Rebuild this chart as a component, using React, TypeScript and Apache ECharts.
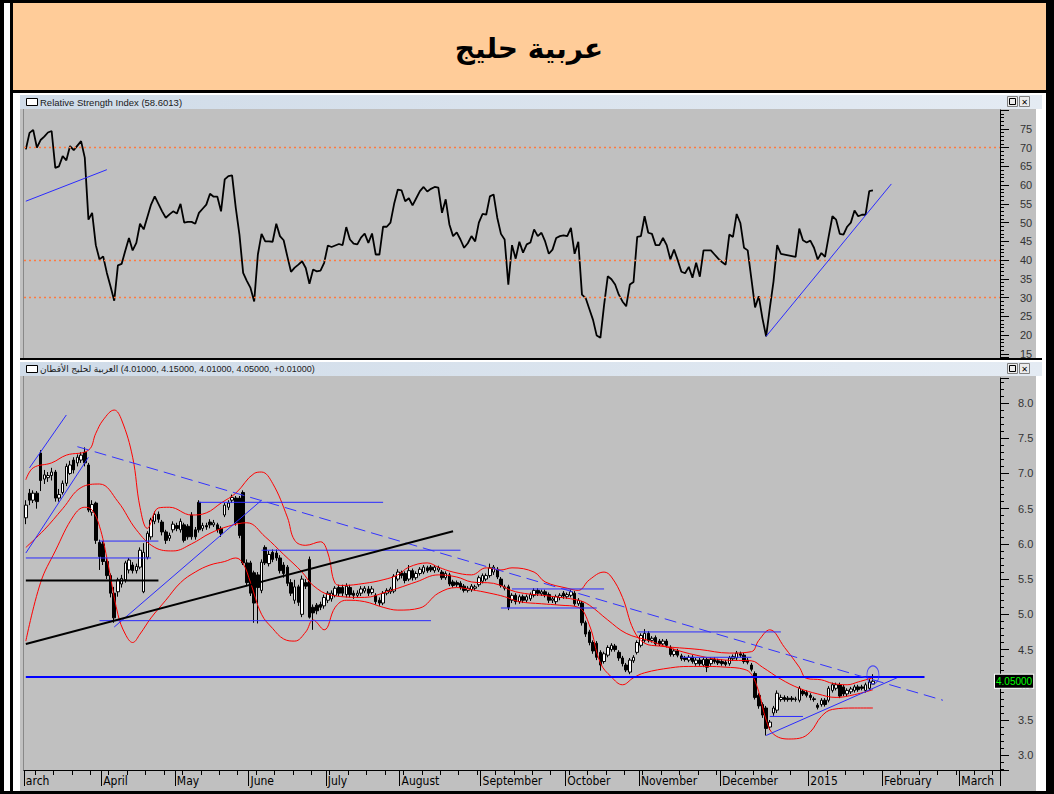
import React, { useEffect, useRef } from 'react';
import * as echarts from 'echarts';

const monthLabels = ['arch', 'April', 'May', 'June', 'July', 'August', 'September', 'October', 'November', 'December', '2015', 'February', 'March'];
const monthStarts = [0, 21, 41, 61, 82, 102, 124, 147, 167, 189, 213, 233, 254];
const totalSlots = 265;

const rsiValues = [
  69.5, 73.9, 74.7, 70, 72, 72.9, 74, 74.4, 64.6, 65, 67.7, 66.6, 70.4, 69.3, 70.5, 71.7, 67.3, 50.8, 52.6, 44,
  40.2, 41, 36.6, 33, 29.2, 38.6, 39, 42.5, 45.9, 42.6, 44.6, 49.7, 48.2, 51.5, 54.8, 57, 55, 53, 51.3, 52.2,
  53, 52.4, 55, 50, 50.2, 50.2, 49.7, 52.6, 53.7, 54.8, 57.7, 56.9, 56.9, 53, 61.5, 62.4, 62.6, 53.9, 46.8, 36.6,
  34.5, 32.6, 29, 41.5, 47, 45, 45, 44.9, 49.7, 46.4, 45.3, 41, 36.9, 38, 38.8, 39.7, 37.9, 33.7, 37.5, 37,
  37.2, 39.3, 43.9, 43.5, 43.9, 44.3, 44, 48.8, 45.5, 44.4, 44.2, 46, 47.1, 44.6, 47.1, 41.5, 41.5, 48.9, 48.9, 50,
  55, 58.8, 58.6, 55.7, 56.5, 54.6, 56.5, 58.4, 59.5, 58.3, 59, 59.5, 59.3, 52.6, 56.2, 49.5, 46.4, 47.4, 45.5, 43.3,
  44.5, 46.4, 45, 50, 52.3, 52.1, 57, 57.5, 51.3, 47, 45.5, 33.5, 44, 40.4, 44.9, 42, 44.2, 44.7, 48.2, 46.4,
  47.3, 45, 41.7, 42.8, 45.9, 46.4, 46.6, 46.4, 48.6, 41.7, 44.9, 30.8, 29.9, 27, 24.1, 19.9, 19.3, 28, 35.7, 34.9,
  33.5, 30.8, 29, 27.7, 33.5, 34.2, 46.2, 46.4, 51.7, 47.3, 47, 44, 44, 45.9, 44, 40.2, 42.8, 40, 36.9, 36.5,
  38.2, 35.3, 39.3, 35.6, 42.6, 42.6, 42.6, 41.5, 40.4, 39.5, 38.8, 46.8, 46.2, 52.3, 49.9, 43.3, 42.6, 35, 27.4, 30.4,
  24.5, 19.7, 27.2, 34.3, 44, 41.7, 41.5, 41.3, 41.1, 40.9, 48.4, 45.3, 44.7, 45.2, 43.3, 40.2, 41.9, 40.9, 46.4, 51.7,
  50.8, 47, 46.8, 48.9, 50, 53.2, 51.7, 52.1, 52.1, 58.4, 58.6,
];

// [open, close, low, high]
const candles = [
  [6.37, 6.55, 6.28, 6.62], [6.72, 6.62, 6.55, 6.78], [6.62, 6.72, 6.58, 6.76], [6.72, 6.6, 6.5, 6.75], [7.29, 6.9, 6.75, 7.33],
  [6.92, 6.98, 6.85, 7.05], [6.94, 6.97, 6.88, 7.02], [6.97, 7.02, 6.9, 7.08], [7.02, 6.65, 6.6, 7.05], [6.65, 6.7, 6.6, 6.78],
  [6.73, 6.86, 6.7, 6.9], [6.86, 7.1, 6.82, 7.14], [7.0, 7.12, 6.98, 7.18], [7.19, 7.05, 7.0, 7.23], [7.15, 7.23, 7.1, 7.27],
  [7.19, 7.26, 7.15, 7.3], [7.3, 7.15, 7.1, 7.37], [7.12, 6.48, 6.45, 7.15], [6.45, 6.56, 6.4, 6.62], [6.58, 6.05, 6.0, 6.6],
  [6.02, 5.82, 5.63, 6.06], [6.0, 5.75, 5.7, 6.04], [5.75, 5.55, 5.5, 5.8], [5.55, 5.3, 5.24, 5.58], [5.3, 4.95, 4.88, 5.39],
  [5.32, 5.49, 5.25, 5.52], [5.43, 5.51, 5.38, 5.56], [5.49, 5.73, 5.45, 5.76], [5.63, 5.77, 5.58, 5.8], [5.7, 5.62, 5.58, 5.74],
  [5.62, 5.68, 5.58, 5.72], [5.67, 5.91, 5.64, 5.95], [5.32, 5.88, 5.3, 6.01], [5.81, 6.15, 5.78, 6.18], [6.1, 6.34, 6.06, 6.37],
  [6.32, 6.42, 6.28, 6.46], [6.42, 6.35, 6.3, 6.46], [6.31, 6.17, 6.12, 6.34], [6.17, 6.05, 6.0, 6.2], [6.08, 6.12, 6.04, 6.16],
  [6.2, 6.28, 6.16, 6.32], [6.26, 6.22, 6.18, 6.3], [6.2, 6.32, 6.16, 6.36], [6.27, 6.05, 6.02, 6.3], [6.25, 6.1, 6.06, 6.28],
  [6.41, 6.1, 6.06, 6.45], [6.2, 6.1, 6.06, 6.24], [6.59, 6.2, 6.16, 6.62], [6.22, 6.26, 6.18, 6.3], [6.26, 6.24, 6.2, 6.3],
  [6.31, 6.27, 6.22, 6.35], [6.27, 6.3, 6.24, 6.34], [6.27, 6.2, 6.16, 6.3], [6.22, 6.15, 6.1, 6.25], [6.41, 6.55, 6.38, 6.58],
  [6.52, 6.58, 6.48, 6.62], [6.62, 6.66, 6.58, 6.7], [6.65, 6.3, 6.26, 6.68], [6.65, 6.12, 6.08, 6.68], [6.73, 5.73, 5.7, 6.76],
  [5.73, 5.45, 5.4, 5.78], [5.73, 5.3, 5.26, 5.76], [5.59, 5.16, 4.88, 5.62], [5.56, 5.38, 4.87, 5.6], [5.34, 5.74, 5.3, 5.78],
  [5.95, 5.73, 5.7, 5.98], [5.72, 5.85, 5.68, 5.9], [5.88, 5.78, 5.74, 5.92], [5.87, 5.8, 5.76, 5.92], [5.8, 5.62, 5.58, 5.84],
  [5.7, 5.58, 5.52, 5.74], [5.67, 5.44, 5.4, 5.7], [5.45, 5.3, 5.26, 5.5], [5.2, 5.39, 5.15, 5.49], [5.39, 5.17, 5.12, 5.42],
  [5.0, 5.5, 4.96, 5.55], [5.45, 5.4, 5.36, 5.5], [5.78, 4.96, 4.94, 5.82], [5.1, 5.02, 4.78, 5.14], [5.13, 5.05, 5.0, 5.16],
  [5.14, 5.1, 5.06, 5.18], [5.12, 5.24, 5.08, 5.28], [5.2, 5.3, 5.16, 5.33], [5.22, 5.3, 5.18, 5.34], [5.27, 5.37, 5.24, 5.4],
  [5.38, 5.3, 5.26, 5.42], [5.38, 5.3, 5.26, 5.42], [5.28, 5.4, 5.24, 5.44], [5.38, 5.28, 5.24, 5.42], [5.3, 5.27, 5.22, 5.34],
  [5.27, 5.3, 5.24, 5.34], [5.3, 5.36, 5.26, 5.4], [5.33, 5.37, 5.3, 5.4], [5.36, 5.3, 5.26, 5.4], [5.31, 5.36, 5.28, 5.4],
  [5.27, 5.18, 5.14, 5.3], [5.2, 5.16, 5.12, 5.24], [5.16, 5.3, 5.13, 5.33], [5.3, 5.34, 5.27, 5.37], [5.32, 5.36, 5.29, 5.39],
  [5.33, 5.54, 5.3, 5.57], [5.5, 5.6, 5.47, 5.64], [5.59, 5.55, 5.51, 5.62], [5.58, 5.48, 5.44, 5.61], [5.5, 5.62, 5.47, 5.7],
  [5.62, 5.52, 5.48, 5.65], [5.52, 5.58, 5.49, 5.61], [5.58, 5.64, 5.55, 5.67], [5.6, 5.67, 5.57, 5.7], [5.66, 5.62, 5.59, 5.69],
  [5.67, 5.63, 5.6, 5.7], [5.62, 5.67, 5.59, 5.7], [5.63, 5.66, 5.6, 5.69], [5.6, 5.52, 5.49, 5.63], [5.52, 5.58, 5.49, 5.61],
  [5.56, 5.43, 5.4, 5.59], [5.46, 5.41, 5.38, 5.49], [5.45, 5.42, 5.39, 5.48], [5.44, 5.38, 5.35, 5.47], [5.4, 5.34, 5.31, 5.43],
  [5.34, 5.37, 5.31, 5.4], [5.35, 5.4, 5.32, 5.43], [5.37, 5.39, 5.34, 5.42], [5.42, 5.52, 5.39, 5.55], [5.47, 5.55, 5.44, 5.58],
  [5.5, 5.55, 5.47, 5.58], [5.55, 5.66, 5.52, 5.72], [5.6, 5.67, 5.56, 5.7], [5.64, 5.53, 5.5, 5.67], [5.5, 5.41, 5.38, 5.53],
  [5.37, 5.39, 5.34, 5.42], [5.39, 5.1, 5.06, 5.42], [5.2, 5.27, 5.16, 5.3], [5.27, 5.18, 5.14, 5.3], [5.18, 5.25, 5.15, 5.28],
  [5.25, 5.2, 5.16, 5.28], [5.2, 5.25, 5.17, 5.28], [5.22, 5.28, 5.19, 5.31], [5.27, 5.34, 5.24, 5.37], [5.34, 5.3, 5.26, 5.37],
  [5.29, 5.32, 5.26, 5.35], [5.32, 5.28, 5.24, 5.35], [5.28, 5.2, 5.16, 5.31], [5.2, 5.22, 5.16, 5.25], [5.18, 5.25, 5.14, 5.28],
  [5.24, 5.27, 5.2, 5.3], [5.3, 5.26, 5.22, 5.33], [5.25, 5.28, 5.22, 5.31], [5.27, 5.32, 5.24, 5.35], [5.3, 5.15, 5.12, 5.33],
  [5.15, 5.2, 5.12, 5.23], [5.16, 4.88, 4.84, 5.19], [4.88, 4.72, 4.68, 4.91], [4.75, 4.6, 4.56, 4.78], [4.6, 4.48, 4.44, 4.63],
  [4.59, 4.39, 4.35, 4.62], [4.46, 4.28, 4.2, 4.49], [4.33, 4.44, 4.3, 4.47], [4.42, 4.53, 4.39, 4.56], [4.5, 4.56, 4.47, 4.59],
  [4.55, 4.5, 4.47, 4.58], [4.46, 4.38, 4.34, 4.49], [4.38, 4.3, 4.26, 4.41], [4.28, 4.21, 4.18, 4.31], [4.18, 4.35, 4.15, 4.38],
  [4.34, 4.39, 4.31, 4.42], [4.46, 4.6, 4.43, 4.63], [4.56, 4.7, 4.53, 4.73], [4.63, 4.73, 4.6, 4.79], [4.73, 4.63, 4.6, 4.76],
  [4.63, 4.66, 4.6, 4.69], [4.67, 4.58, 4.55, 4.7], [4.62, 4.58, 4.55, 4.65], [4.58, 4.62, 4.55, 4.65], [4.62, 4.56, 4.53, 4.65],
  [4.53, 4.43, 4.4, 4.56], [4.43, 4.48, 4.4, 4.51], [4.48, 4.42, 4.39, 4.51], [4.41, 4.37, 4.34, 4.44], [4.38, 4.36, 4.33, 4.41],
  [4.35, 4.39, 4.32, 4.42], [4.39, 4.33, 4.3, 4.42], [4.3, 4.35, 4.27, 4.38], [4.35, 4.3, 4.27, 4.38], [4.28, 4.36, 4.25, 4.39],
  [4.36, 4.25, 4.18, 4.39], [4.3, 4.36, 4.27, 4.39], [4.36, 4.33, 4.3, 4.39], [4.34, 4.31, 4.28, 4.37], [4.33, 4.3, 4.27, 4.36],
  [4.32, 4.29, 4.26, 4.35], [4.3, 4.38, 4.27, 4.41], [4.37, 4.4, 4.34, 4.43], [4.38, 4.45, 4.35, 4.48], [4.44, 4.42, 4.39, 4.47],
  [4.42, 4.33, 4.3, 4.45], [4.35, 4.32, 4.29, 4.38], [4.28, 4.22, 4.19, 4.31], [4.16, 3.82, 3.79, 4.19], [3.85, 3.7, 3.66, 3.88],
  [3.72, 3.57, 3.53, 3.75], [3.67, 3.38, 3.28, 3.7], [3.4, 3.47, 3.36, 3.5], [3.6, 3.67, 3.56, 3.7], [3.64, 3.88, 3.6, 3.92],
  [3.79, 3.82, 3.76, 3.86], [3.82, 3.79, 3.76, 3.85], [3.81, 3.79, 3.76, 3.84], [3.81, 3.79, 3.76, 3.84], [3.79, 3.8, 3.76, 3.83],
  [3.78, 3.95, 3.75, 3.98], [3.91, 3.87, 3.84, 3.94], [3.89, 3.85, 3.82, 3.92], [3.85, 3.82, 3.78, 3.88], [3.8, 3.79, 3.76, 3.83],
  [3.71, 3.68, 3.65, 3.74], [3.72, 3.78, 3.69, 3.81], [3.78, 3.72, 3.69, 3.81], [3.78, 3.95, 3.75, 3.98], [3.92, 4.0, 3.89, 4.03],
  [3.95, 4.0, 3.92, 4.03], [4.0, 3.84, 3.81, 4.03], [3.97, 3.87, 3.84, 4.0], [3.87, 3.92, 3.84, 3.95], [3.9, 3.94, 3.87, 3.97],
  [3.92, 3.97, 3.89, 4.0], [3.97, 3.93, 3.9, 4.0], [3.97, 3.95, 3.92, 4.0], [3.92, 4.0, 3.89, 4.03], [3.95, 4.04, 3.92, 4.08],
  [4.01, 4.05, 4.01, 4.15],
];

// Bollinger bands, read at points: [dayIndex, value]
const upperBand = [[0, 6.91], [2, 7.08], [7, 7.15], [11, 7.26], [17, 7.33], [19, 7.57], [21, 7.76], [24, 7.9], [26, 7.76], [29, 7.23], [31, 6.52], [33, 6.22], [36, 6.51], [39, 6.52], [45, 6.41], [49, 6.44], [53, 6.58], [57, 6.72], [62, 7.0], [64, 7.02], [67, 6.86], [71, 6.38], [73, 6.05], [76, 5.98], [80, 6.03], [82, 5.87], [84, 5.44], [86, 5.41], [92, 5.44], [97, 5.49], [101, 5.56], [104, 5.67], [109, 5.73], [112, 5.67], [116, 5.6], [121, 5.56], [125, 5.66], [129, 5.63], [132, 5.66], [138, 5.6], [141, 5.46], [147, 5.37], [150, 5.34], [153, 5.49], [157, 5.6], [159, 5.53], [162, 5.24], [165, 4.78], [168, 4.59], [172, 4.55], [183, 4.5], [191, 4.45], [197, 4.47], [199, 4.63], [202, 4.78], [206, 4.53], [210, 4.25], [212, 4.09], [216, 4.07], [219, 4.02], [223, 4.0], [226, 4.04], [230, 4.1]];
const middleBand = [[0, 5.95], [5, 6.2], [10, 6.5], [15, 6.8], [20, 6.85], [25, 6.6], [30, 6.2], [35, 5.95], [40, 5.9], [45, 6.0], [50, 6.15], [55, 6.25], [60, 6.3], [65, 6.1], [70, 5.85], [75, 5.6], [78, 5.41], [83, 5.27], [92, 5.24], [98, 5.32], [101, 5.37], [106, 5.46], [112, 5.56], [117, 5.53], [121, 5.46], [127, 5.44], [133, 5.32], [142, 5.26], [150, 5.2], [153, 5.13], [158, 4.92], [163, 4.73], [169, 4.63], [175, 4.52], [182, 4.42], [190, 4.35], [197, 4.34], [200, 4.25], [205, 4.08], [210, 3.95], [215, 3.87], [220, 3.82], [225, 3.86], [230, 3.93]];
const lowerBand = [[0, 4.62], [4, 5.45], [8, 5.9], [13, 6.4], [16, 6.52], [18, 6.48], [20, 6.25], [22, 5.8], [25, 5.0], [27, 4.72], [29, 4.6], [31, 4.72], [34, 4.95], [38, 5.2], [42, 5.45], [46, 5.6], [50, 5.7], [54, 5.75], [57, 5.8], [59, 5.72], [61, 5.45], [64, 5.0], [67, 4.8], [70, 4.65], [73, 4.62], [76, 4.75], [78, 4.92], [81, 4.78], [84, 5.1], [87, 5.2], [92, 5.18], [97, 5.1], [101, 5.06], [107, 5.09], [112, 5.3], [117, 5.38], [121, 5.35], [126, 5.3], [130, 5.25], [134, 5.18], [140, 5.15], [145, 5.13], [150, 5.1], [153, 4.85], [156, 4.31], [159, 4.11], [162, 4.0], [165, 4.1], [168, 4.17], [175, 4.24], [180, 4.26], [185, 4.26], [190, 4.25], [195, 4.22], [197, 4.15], [199, 3.9], [201, 3.5], [203, 3.3], [207, 3.23], [210, 3.24], [213, 3.33], [216, 3.55], [219, 3.65], [225, 3.67], [230, 3.67]];

// Drawn trend lines (price pane), endpoints as [dayIndex, price]
const blueThinLines = [
  [[1, 7.08], [11, 7.83]],
  [[0, 5.87], [17, 7.23]],
  [[24, 4.82], [64, 6.62]],
  [[201, 3.28], [237, 4.11]],
  [[20, 6.04], [36, 6.04]],
  [[0, 5.8], [34, 5.8]],
  [[20, 4.91], [110, 4.91]],
  [[47, 6.59], [97, 6.59]],
  [[64, 5.91], [118, 5.91]],
  [[129, 5.09], [155, 5.09]],
  [[132, 5.36], [157, 5.36]],
  [[166, 4.75], [205, 4.75]],
  [[178, 4.39], [197, 4.39]],
  [[202, 3.55], [211, 3.55]],
];
const blueThickLine = [[0, 4.11], [244, 4.11]];
const blueDashedLine = [[14, 7.38], [249, 3.78]];
const blackThickLine = [[0, 4.58], [116, 6.18]];
const blackFlatLine = [[0, 5.48], [36, 5.48]];
const circleMark = [[230, 4.14]];
const lastClose = 4.05;

// RSI pane lines
const rsiLevels = [70, 40, 30];
const rsiTrendLines = [
  [[0, 55.7], [22, 64.1]],
  [[201, 19.7], [235, 60.3]],
];

const categories = Array.from({ length: totalSlots }, (_, i) => String(i));
const isMonthStart = (i: number) => monthStarts.indexOf(i) >= 0;

const AX_FONT = '"Liberation Sans", Arial, sans-serif';
const NARROW = '"Liberation Sans Narrow", "DejaVu Sans Condensed", "Liberation Sans", sans-serif';

function onStep(v: number, step: number) {
  return Math.abs(v / step - Math.round(v / step)) < 1e-6;
}

export default function App() {
  const ref = useRef<HTMLDivElement>(null);
  useEffect(() => {
    if (!ref.current) return;
    const chart = echarts.init(ref.current, undefined, { renderer: 'svg' });

    const headerFill = new echarts.graphic.LinearGradient(0, 0, 1, 0, [
      { offset: 0, color: '#cfdbe8' },
      { offset: 1, color: '#e4ebf3' },
    ]);

    const headerIcon = (y: number) => ({
      type: 'rect', shape: { x: 26.5, y: y + 3.5, width: 11, height: 7 }, style: { fill: '#ffffff', stroke: '#000000', lineWidth: 1 },
    });
    const buttons = (y: number) => [
      { type: 'rect', shape: { x: 1007.5, y: y + 1.5, width: 10, height: 10 }, style: { fill: '#ececec', stroke: '#808080', lineWidth: 1 } },
      { type: 'rect', shape: { x: 1009.5, y: y + 3.5, width: 6, height: 6 }, style: { fill: 'none', stroke: '#000000', lineWidth: 1 } },
      { type: 'rect', shape: { x: 1019.5, y: y + 1.5, width: 10, height: 10 }, style: { fill: '#ececec', stroke: '#808080', lineWidth: 1 } },
      { type: 'text', style: { text: '✕', x: 1024.5, y: y + 7, fill: '#000', font: 'bold 8px "DejaVu Sans"', textAlign: 'center', textVerticalAlign: 'middle' } },
    ];

    const elements: any[] = [
      { type: 'rect', shape: { x: 0, y: 0, width: 1054, height: 794 }, style: { fill: '#ffffff' } },
      { type: 'rect', shape: { x: 12, y: 3, width: 1034, height: 88 }, style: { fill: '#FFCC99' } },
      { type: 'rect', shape: { x: 12, y: 90, width: 1034, height: 3 }, style: { fill: '#000000' } },
      // RSI pane
      { type: 'rect', shape: { x: 20, y: 95, width: 1022, height: 14 }, style: { fill: headerFill } },
      { type: 'rect', shape: { x: 20, y: 109, width: 1016, height: 249 }, style: { fill: '#c0c0c0' } },
      { type: 'line', shape: { x1: 23.5, y1: 109, x2: 23.5, y2: 358 }, style: { stroke: '#888888', lineWidth: 1 } },
      { type: 'rect', shape: { x: 20, y: 358, width: 1022, height: 2 }, style: { fill: '#000000' } },
      // price pane
      { type: 'rect', shape: { x: 20, y: 362, width: 1022, height: 14 }, style: { fill: headerFill } },
      { type: 'rect', shape: { x: 20, y: 376, width: 1016, height: 415 }, style: { fill: '#c0c0c0' } },
      { type: 'line', shape: { x1: 23.5, y1: 376, x2: 23.5, y2: 771 }, style: { stroke: '#888888', lineWidth: 1 } },
      // frame
      { type: 'rect', shape: { x: 0, y: 0, width: 4, height: 794 }, style: { fill: '#000000' } },
      { type: 'rect', shape: { x: 10, y: 0, width: 3, height: 794 }, style: { fill: '#000000' } },
      { type: 'rect', shape: { x: 1046, y: 0, width: 8, height: 794 }, style: { fill: '#000000' } },
      { type: 'rect', shape: { x: 0, y: 0, width: 1054, height: 3 }, style: { fill: '#000000' } },
      { type: 'rect', shape: { x: 0, y: 791, width: 1054, height: 3 }, style: { fill: '#000000' } },
      // texts
      { type: 'text', style: { text: 'عربية حليج', x: 529, y: 48, fill: '#000000', font: 'bold 28px "DejaVu Sans", sans-serif', textAlign: 'center', textVerticalAlign: 'middle' } },
      headerIcon(95),
      { type: 'text', style: { text: 'Relative Strength Index (58.6013)', x: 40, y: 102, fill: '#1a1a1a', font: '9.5px ' + AX_FONT, textVerticalAlign: 'middle' } },
      ...buttons(95),
      headerIcon(362),
      { type: 'text', style: { text: 'العربية لحليج الأقطان\u200E (4.01000, 4.15000, 4.01000, 4.05000, +0.01000)', x: 40, y: 369, fill: '#1a1a1a', font: '9px "Liberation Sans", "DejaVu Sans", sans-serif', textVerticalAlign: 'middle' } },
      ...buttons(362),
    ];

    const lineSeries = (data: number[][], color: string, width: number, type: any = 'solid', grid = 1) => ({
      type: 'line', xAxisIndex: grid, yAxisIndex: grid, data, showSymbol: false, silent: true,
      lineStyle: { color, width, type }, z: 5, clip: true,
    });

    const option: any = {
      animation: false,
      graphic: { z: -10, elements },
      grid: [
        { left: 24, top: 110, width: 976, height: 247, show: false },
        { left: 24, top: 378, width: 976, height: 392, show: false },
      ],
      xAxis: [
        { type: 'category', gridIndex: 0, data: categories, boundaryGap: true, show: false },
        {
          type: 'category', gridIndex: 1, data: categories, boundaryGap: true, position: 'bottom',
          axisLine: { show: true, lineStyle: { color: '#000000', width: 1 } },
          axisTick: { show: true, interval: (i: number) => isMonthStart(i), length: 16, lineStyle: { color: '#000000' } },
          axisLabel: {
            show: true, interval: (i: number) => isMonthStart(i),
            formatter: (_v: string, i: number) => monthLabels[monthStarts.indexOf(i)] || '',
            align: 'left', margin: 5, color: '#000000', fontSize: 12, fontFamily: NARROW,
          },
          splitLine: { show: false },
        },
        {
          type: 'category', gridIndex: 1, data: categories, boundaryGap: true, position: 'bottom',
          axisLine: { show: false },
          axisTick: { show: true, interval: (i: number) => i % 5 === 3 && !isMonthStart(i), length: 5, lineStyle: { color: '#000000' } },
          axisLabel: { show: false },
        },
      ],
      yAxis: [
        {
          type: 'value', gridIndex: 0, position: 'right', min: 14.2, max: 80, minInterval: 5, maxInterval: 5, splitNumber: 13,
          axisLine: { show: true, lineStyle: { color: '#000000' } },
          axisTick: { show: true, length: 9, lineStyle: { color: '#000000' } },
          minorTick: { show: true, splitNumber: 5, length: 4, lineStyle: { color: '#000000' } },
          splitLine: { show: false },
          axisLabel: {
            margin: 20, fontSize: 11, color: '#333333', fontFamily: AX_FONT,
            formatter: (v: number) => (onStep(v, 5) && v >= 15 && v <= 75 ? String(Math.round(v)) : ''),
          },
        },
        {
          type: 'value', gridIndex: 1, position: 'right', min: 2.79, max: 8.355, minInterval: 0.5, maxInterval: 0.5, splitNumber: 11,
          axisLine: { show: true, lineStyle: { color: '#000000' } },
          axisTick: { show: true, length: 9, lineStyle: { color: '#000000' } },
          minorTick: { show: true, splitNumber: 5, length: 4, lineStyle: { color: '#000000' } },
          splitLine: { show: false },
          axisLabel: {
            margin: 18, fontSize: 11, color: '#333333', fontFamily: AX_FONT,
            formatter: (v: number) => (onStep(v, 0.5) && v >= 2.99 && v <= 8.01 ? v.toFixed(1) : ''),
          },
        },
      ],
      series: [
        {
          type: 'line', name: 'RSI', xAxisIndex: 0, yAxisIndex: 0, data: rsiValues, showSymbol: false, silent: true,
          lineStyle: { color: '#000000', width: 1.8 }, z: 4,
          markLine: {
            silent: true, symbol: ['none', 'none'], label: { show: false },
            lineStyle: { color: '#ff7a40', type: [2, 3], width: 1.3 },
            data: rsiLevels.map((v) => ({ yAxis: v })),
          },
        },
        ...rsiTrendLines.map((d) => lineSeries(d, '#2a2aff', 1, 'solid', 0)),
        {
          type: 'candlestick', name: 'price', xAxisIndex: 1, yAxisIndex: 1, data: candles, barWidth: 3, silent: true,
          itemStyle: { color: '#ffffff', color0: '#000000', borderColor: '#000000', borderColor0: '#000000', borderWidth: 1 },
          z: 3,
          markLine: {
            silent: true, symbol: ['none', 'none'],
            lineStyle: { color: 'rgba(0,0,0,0)', width: 0 },
            label: {
              show: true, position: 'end', distance: -5, formatter: () => lastClose.toFixed(5),
              color: '#00ff00', backgroundColor: '#000000', borderColor: '#ffffff', borderWidth: 1,
              padding: [2, 1, 1, 1], fontSize: 10, fontFamily: AX_FONT,
            },
            data: [{ yAxis: lastClose }],
          },
        },
        { ...lineSeries(upperBand, '#ff0000', 1), smooth: 0.4, z: 4 },
        { ...lineSeries(middleBand, '#ff0000', 1), smooth: 0.4, z: 4 },
        { ...lineSeries(lowerBand, '#ff0000', 1), smooth: 0.4, z: 4 },
        ...blueThinLines.map((d) => lineSeries(d, '#2a2aff', 1)),
        lineSeries(blueThickLine, '#0000ff', 2),
        lineSeries(blueDashedLine, '#3333ff', 1, [12, 6]),
        lineSeries(blackThickLine, '#000000', 2),
        lineSeries(blackFlatLine, '#000000', 2),
        {
          type: 'scatter', xAxisIndex: 1, yAxisIndex: 1, data: circleMark, symbol: 'circle', symbolSize: [12, 18], silent: true,
          itemStyle: { color: 'rgba(0,0,0,0)', borderColor: '#2a2aff', borderWidth: 1 }, z: 6,
        },
      ],
    };

    chart.setOption(option);
    return () => chart.dispose();
  }, []);

  return <div ref={ref} style={{ position: 'absolute', left: 0, top: 0, width: 1054, height: 794 }} />;
}
